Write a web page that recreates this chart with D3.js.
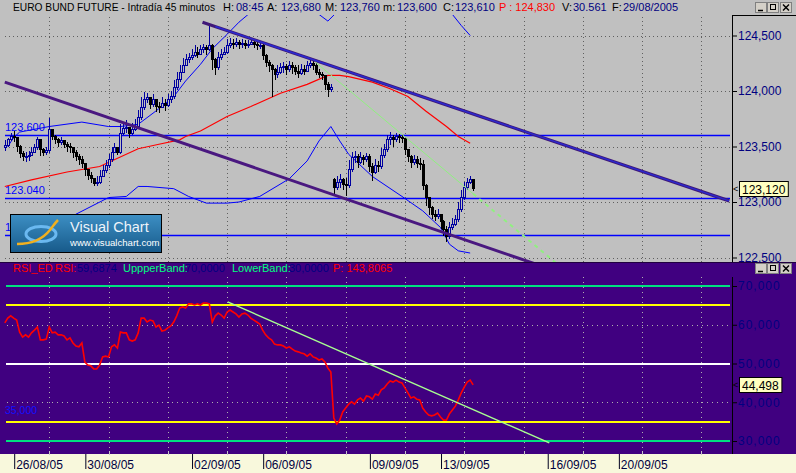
<!DOCTYPE html>
<html><head><meta charset="utf-8">
<script src="https://cdn.jsdelivr.net/npm/d3@7"></script>
<style>
body{margin:0;background:#c0c0c0;overflow:hidden}
svg{display:block;font-family:"Liberation Sans",Arial,sans-serif}
</style></head>
<body><svg id="c" width="796" height="473"></svg>
<script>
// ---------------- DATA ----------------
const closes = [
123.51,123.56,123.59,123.58,123.50,123.44,123.41,123.41,123.42,123.45,
123.49,123.56,123.47,123.45,123.46,123.65,123.59,123.56,123.54,123.55,
123.52,123.50,123.49,123.45,123.41,123.38,123.35,123.29,123.24,123.21,
123.17,123.18,123.23,123.28,123.33,123.38,123.45,123.49,123.45,123.62,
123.66,123.67,123.62,123.65,123.68,123.76,123.85,123.92,123.94,123.88,
123.92,123.86,123.85,123.89,123.87,123.92,123.95,124.03,124.10,124.17,
124.23,124.28,124.30,124.32,124.35,124.33,124.37,124.39,124.37,124.41,
124.28,124.21,124.30,124.33,124.35,124.41,124.43,124.42,124.44,124.42,
124.43,124.41,124.42,124.44,124.42,124.41,124.41,124.32,124.26,124.23,
124.19,124.15,124.17,124.21,124.22,124.19,124.23,124.21,124.18,124.16,
124.19,124.18,124.23,124.25,124.23,124.17,124.15,124.14,124.06,124.01,
124.03,123.13,123.18,123.20,123.16,123.15,123.29,123.40,123.41,123.36,
123.40,123.38,123.41,123.32,123.27,123.33,123.32,123.42,123.47,123.56,
123.58,123.56,123.59,123.58,123.57,123.47,123.41,123.36,123.38,123.35,
123.34,123.15,123.04,122.95,122.89,122.87,122.89,122.82,122.75,122.69,
122.77,122.80,122.84,122.93,123.04,123.13,123.18,123.20,123.12];
const highs = [
123.56,123.58,123.62,123.64,123.59,123.51,123.46,123.45,123.46,123.50,
123.52,123.59,123.57,123.49,123.50,123.76,123.66,123.60,123.58,123.59,
123.56,123.54,123.53,123.50,123.47,123.43,123.41,123.35,123.30,123.27,
123.22,123.23,123.29,123.33,123.38,123.43,123.50,123.53,123.50,123.70,
123.72,123.74,123.68,123.71,123.75,123.83,123.95,123.99,123.98,123.95,
123.97,123.92,123.90,123.95,123.93,123.97,124.00,124.10,124.17,124.23,
124.30,124.33,124.34,124.38,124.41,124.40,124.41,124.42,124.41,124.60,
124.42,124.30,124.35,124.38,124.40,124.47,124.48,124.47,124.48,124.46,
124.47,124.46,124.46,124.48,124.46,124.45,124.45,124.42,124.33,124.28,
124.24,124.21,124.23,124.25,124.26,124.24,124.27,124.26,124.23,124.23,
124.24,124.23,124.27,124.29,124.28,124.25,124.20,124.17,124.14,124.08,
124.06,123.22,123.23,123.25,123.22,123.22,123.38,123.45,123.46,123.43,
123.45,123.42,123.44,123.43,123.35,123.39,123.37,123.49,123.52,123.60,
123.63,123.60,123.62,123.61,123.60,123.59,123.48,123.42,123.42,123.41,
123.40,123.38,123.16,123.04,122.96,122.93,122.94,122.89,122.84,122.78,
122.82,122.86,122.88,123.00,123.11,123.18,123.22,123.23,123.21];
const lows = [
123.46,123.50,123.55,123.54,123.45,123.40,123.37,123.36,123.37,123.41,
123.44,123.47,123.41,123.41,123.42,123.44,123.56,123.52,123.50,123.51,
123.49,123.45,123.44,123.40,123.37,123.33,123.31,123.23,123.20,123.17,
123.14,123.14,123.16,123.23,123.26,123.31,123.36,123.45,123.42,123.43,
123.60,123.62,123.58,123.60,123.64,123.66,123.74,123.83,123.89,123.84,
123.86,123.81,123.80,123.85,123.82,123.86,123.89,123.93,124.01,124.08,
124.17,124.23,124.25,124.28,124.31,124.30,124.32,124.34,124.32,124.36,
124.19,124.14,124.19,124.28,124.32,124.33,124.39,124.38,124.40,124.38,
124.39,124.38,124.39,124.41,124.39,124.37,124.38,124.28,124.22,124.17,
123.95,124.10,124.12,124.15,124.16,124.14,124.17,124.15,124.14,124.12,
124.14,124.14,124.17,124.21,124.19,124.14,124.12,124.10,124.01,123.95,
123.99,123.05,123.11,123.13,123.11,123.05,123.13,123.27,123.35,123.31,
123.34,123.33,123.36,123.27,123.19,123.25,123.27,123.30,123.40,123.45,
123.51,123.50,123.54,123.53,123.53,123.42,123.36,123.31,123.33,123.31,
123.29,123.11,122.96,122.88,122.85,122.83,122.85,122.76,122.69,122.64,
122.67,122.75,122.78,122.82,122.91,123.02,123.11,123.16,123.10];
// opens follow the previous close except at session start / contract roll
const gapOpens = {0: 123.49, 111: 123.20};

// red moving average (bar index, value)
const maIdx  = [0,9,21,32,45,52,59,61,66,75,83,93,102,109,113,116,124,130,136,142,149,153,157];
const maVals = [123.14,123.20,123.27,123.32,123.48,123.52,123.56,123.59,123.64,123.77,123.86,123.98,124.06,124.14,124.14,124.13,124.08,124.02,123.95,123.82,123.68,123.59,123.53];
// blue envelope, upper curve
const upIdx  = [1,3,5,15,26,35,39,45,51,57,61,66,70,75,79,83,90,97,103,106,109,112,114,120,135,145,151,154,157];
const upVals = [123.50,123.58,123.63,123.68,123.72,123.68,123.68,123.70,123.82,123.95,124.09,124.24,124.38,124.51,124.62,124.71,124.78,124.80,124.75,124.69,124.63,124.71,125.09,125.54,125.54,125.09,124.69,124.59,124.50];
// blue envelope, lower curve
const loIdx  = [3,12,24,35,41,45,48,57,62,68,75,79,86,96,102,106,110,113,116,124,134,141,147,150,153,157];
const loVals = [122.57,122.70,122.89,123.04,123.05,123.14,123.14,123.12,123.05,122.99,122.99,123.00,123.05,123.21,123.37,123.55,123.68,123.55,123.43,123.23,123.05,122.92,122.77,122.62,122.56,122.54];

const hLines = [123.600, 123.040, 122.700];
const trendLow  = [[0,124.08],[200,122.25]];
const trendHigh = [[66.7,124.62],[244.4,123.01]];
const greenLine = [[104.8,124.26],[186,122.45]];

const rsi = [
60.5,61.7,62.3,61.7,61.2,58.1,56.8,57.4,56.8,57.9,
58.6,59.4,56.1,56.1,56.3,59.4,57.9,58.1,57.4,57.4,
57.1,56.1,56.6,55.3,54.5,54.3,55.3,50.4,49.6,49.4,
48.6,48.6,49.6,51.7,51.9,51.7,54.3,54.8,54.0,58.1,
57.9,57.9,56.1,55.8,56.1,57.9,61.7,61.7,60.7,61.2,
61.0,59.4,59.9,58.4,58.6,59.2,59.7,60.7,62.3,64.3,
64.6,64.3,65.4,65.4,65.1,65.4,65.1,65.6,65.6,65.4,
60.7,62.3,63.0,62.5,61.7,63.3,63.8,63.3,62.8,62.0,
62.8,63.0,62.5,61.7,61.2,60.7,60.2,58.6,57.4,56.6,
56.1,55.0,54.8,54.8,54.5,54.0,54.3,53.7,53.2,53.0,
52.7,52.5,51.9,52.5,51.7,51.4,50.9,51.2,50.4,48.8,
47.8,35.9,34.4,35.4,37.5,38.5,39.5,40.1,39.5,40.6,
41.1,40.3,41.6,41.4,40.8,42.1,41.8,43.2,43.7,44.7,
45.5,45.2,45.7,45.2,45.0,43.7,42.4,41.1,41.4,40.8,
40.6,38.5,37.5,36.7,36.5,36.7,37.2,36.2,35.4,35.4,
37.0,38.0,39.0,40.6,42.4,43.9,45.2,45.7,44.498];
const rsiTrend = [[75.2,65.9],[183.7,29.5]];
const rsiBands = [{v:70,c:"#00e080"},{v:65,c:"#ffff00"},{v:50,c:"#ffffff"},{v:35,c:"#ffff00"},{v:30,c:"#00e080"}];

const priceTicks = [122.5,123.0,123.5,124.0,124.5];
const rsiTicks = [30,40,50,60,70];
const gridIdx = [15,35,55,75,95,115,135,155,175,195,215,235];
const dateIdx = [3,27,63,87,123,147,183,207];
const dateLabels = ["26/08/05","30/08/05","02/09/05","06/09/05","09/09/05","13/09/05","16/09/05","20/09/05"];

const titleParts = [
 ["EURO BUND FUTURE - Intradía 45 minutos","#000000",13,202],["H:","#000000",223],["08:45","#000080",236],
 ["A:","#000000",267],["123,680","#000080",281],["M:","#000000",325],["123,760","#000080",340],
 ["m:","#000000",383],["123,600","#000080",397],["C:","#000000",443],["123,610","#000080",455],
 ["P : 124,830","#ff0000",499],["V:","#000000",562],["30.561","#000080",573],["F:","#000000",612],["29/08/2005","#000080",623]];
const rsiTitle = [["RSI_ED","#ff0000",13],["RSI:","#ff0000",55],["59,6874","#000080",77],
 ["UppperBand:","#00ff80",123],["70,0000","#000080",185],["LowerBand:","#00ff80",232],["30,0000","#000080",289],["P: 143,8065","#ff0000",333]];

// ---------------- SCALES ----------------
const svg = d3.select("#c");
const x = d3.scaleLinear().domain([0,245]).range([4.8,731]);
const yP = d3.scaleLinear().domain([122.5,124.5]).range([257.5,35.5]);
const yR = d3.scaleLinear().domain([30,70]).range([441,286]);
const fmtComma = n => v => d3.format("."+n+"f")(v).replace(".",",");

// backgrounds
svg.append("rect").attr("x",0).attr("y",0).attr("width",796).attr("height",263).attr("fill","#c0c0c0");
svg.append("rect").attr("x",0).attr("y",263).attr("width",796).attr("height",191).attr("fill","#400080");
svg.append("rect").attr("x",0).attr("y",454).attr("width",796).attr("height",19).attr("fill","#f8f8dc");
svg.append("line").attr("x1",0).attr("x2",796).attr("y1",262.5).attr("y2",262.5).attr("stroke","#200040");

const defs = svg.append("defs");
defs.append("clipPath").attr("id","cm").append("rect").attr("x",3).attr("y",15).attr("width",729).attr("height",247);
defs.append("clipPath").attr("id","cr").append("rect").attr("x",3).attr("y",276).attr("width",729).attr("height",176);
const lg = defs.append("linearGradient").attr("id","lg").attr("x1",0).attr("y1",0).attr("x2",0).attr("y2",1);
lg.append("stop").attr("offset","0%").attr("stop-color","#3d8fc4");
lg.append("stop").attr("offset","100%").attr("stop-color","#175a8a");

// ---------------- MAIN PANEL ----------------
const main = svg.append("g").attr("clip-path","url(#cm)");
main.selectAll(".gv").data(gridIdx).join("line")
  .attr("x1",d=>Math.round(x(d))+0.5).attr("x2",d=>Math.round(x(d))+0.5).attr("y1",17).attr("y2",262)
  .attr("stroke","#606060").attr("stroke-dasharray","1,3");
main.selectAll(".gh").data(priceTicks).join("line")
  .attr("x1",5).attr("x2",730).attr("y1",d=>Math.round(yP(d))+0.5).attr("y2",d=>Math.round(yP(d))+0.5)
  .attr("stroke","#606060").attr("stroke-dasharray","1,3");
main.selectAll(".hl").data(hLines).join("line")
  .attr("x1",5).attr("x2",730).attr("y1",d=>Math.round(yP(d))+0.5).attr("y2",d=>Math.round(yP(d))+0.5)
  .attr("stroke","#0000ff").attr("stroke-width",1.3);
main.selectAll(".hlt").data(hLines).join("text")
  .attr("x",5).attr("y",d=>yP(d)-4).attr("font-size",11).attr("fill","#0000ff")
  .text(d=>d3.format(".3f")(d));

const lineP = d3.line().x(d=>x(d[0])).y(d=>yP(d[1]));
main.append("path").datum(d3.zip(upIdx,upVals)).attr("d",lineP).attr("fill","none").attr("stroke","#0000ff").attr("stroke-width",1);
main.append("path").datum(d3.zip(loIdx,loVals)).attr("d",lineP).attr("fill","none").attr("stroke","#0000ff").attr("stroke-width",1);
main.append("path").datum(d3.zip(maIdx,maVals)).attr("d",lineP).attr("fill","none").attr("stroke","#ff0000").attr("stroke-width",1.2);

// candles
const bars = closes.map((c,i)=>{
  const o = gapOpens[i]!==undefined ? gapOpens[i] : closes[i-1];
  return {i,o,c,h:Math.max(highs[i],o,c),l:Math.min(lows[i],o,c)};
});
const cg = main.append("g").attr("shape-rendering","crispEdges");
cg.selectAll(".w").data(bars).join("line")
  .attr("x1",d=>Math.round(x(d.i))+0.5).attr("x2",d=>Math.round(x(d.i))+0.5)
  .attr("y1",d=>yP(d.h)).attr("y2",d=>yP(d.l))
  .attr("stroke",d=>d.c>=d.o?"#0000a0":"#000000");
cg.selectAll(".b").data(bars).join("rect")
  .attr("x",d=>Math.round(x(d.i))-0.5).attr("width",2)
  .attr("y",d=>yP(Math.max(d.o,d.c))).attr("height",d=>Math.max(1,yP(Math.min(d.o,d.c))-yP(Math.max(d.o,d.c))))
  .attr("fill",d=>d.c>=d.o?"#c0c0c0":"#000000").attr("stroke",d=>d.c>=d.o?"#0000a0":"#000000");

// trend lines
main.append("path").datum(trendLow).attr("d",lineP).attr("stroke","#4a1880").attr("stroke-width",3).attr("fill","none");
main.append("path").datum(trendHigh).attr("d",lineP).attr("stroke","#401878").attr("stroke-width",3.2).attr("fill","none");
const th = trendHigh, tSlope = (th[1][1]-th[0][1])/(th[1][0]-th[0][0]);
main.append("path").datum([[71,th[0][1]+tSlope*(71-th[0][0])],th[1]]).attr("d",lineP).attr("stroke","#2a2ad0").attr("stroke-width",1.5).attr("fill","none");
const gSlope = (greenLine[1][1]-greenLine[0][1])/(greenLine[1][0]-greenLine[0][0]);
const gMid = [158, greenLine[0][1]+gSlope*(158-greenLine[0][0])];
main.append("path").datum([greenLine[0],gMid]).attr("d",lineP).attr("stroke","#90f080").attr("stroke-width",1).attr("fill","none");
main.append("path").datum([gMid,greenLine[1]]).attr("d",lineP).attr("stroke","#90f080").attr("stroke-width",2).attr("stroke-dasharray","4,4").attr("fill","none");

// logo
const logo = svg.append("g");
logo.append("rect").attr("x",10.5).attr("y",214.5).attr("width",151).attr("height",38).attr("fill","url(#lg)").attr("stroke","#000").attr("stroke-width",1);
logo.append("ellipse").attr("cx",41).attr("cy",234).attr("rx",15).attr("ry",7.5).attr("fill","none").attr("stroke","#6ab8f0").attr("stroke-width",3);
logo.append("path").attr("d","M17,244 C30,244 42,240 50,230 C53,226 55,223 58,220").attr("fill","none").attr("stroke","#f0b020").attr("stroke-width",2.5);
logo.append("text").attr("x",70).attr("y",232).attr("font-size",14.5).attr("fill","#eef4fa").text("Visual Chart");
logo.append("text").attr("x",70).attr("y",246).attr("font-size",9.6).attr("fill","#ffffff").text("www.visualchart.com");

// title
const tg = svg.append("g").attr("font-size",11);
tg.selectAll("text").data(titleParts).join("text").attr("x",d=>d[2]).attr("y",11).attr("fill",d=>d[1])
  .each(function(d){ if(d[3]) d3.select(this).attr("font-size",10.4).attr("textLength",d[3]).attr("lengthAdjust","spacingAndGlyphs"); })
  .text(d=>d[0]);

// price axis
const pa = svg.append("g").attr("transform","translate(732,0)")
  .call(d3.axisRight(yP).tickValues(priceTicks).tickSize(5).tickFormat(fmtComma(3)));
pa.select(".domain").remove();
pa.selectAll("line").attr("stroke","#000");
pa.selectAll("text").attr("font-size",12).attr("fill","#000080").attr("x",6).attr("font-family","Liberation Sans, Arial");
svg.append("line").attr("x1",732.5).attr("x2",732.5).attr("y1",15).attr("y2",262).attr("stroke","#000");
svg.append("line").attr("x1",732).attr("x2",796).attr("y1",15.5).attr("y2",15.5).attr("stroke","#000");

function valBox(yv, label){
  const g = svg.append("g");
  g.append("text").attr("x",733).attr("y",yv+3).attr("font-size",9).attr("fill","#000").text("<");
  g.append("rect").attr("x",739.5).attr("y",Math.round(yv)-7.5).attr("width",label.length*6.4+4).attr("height",15).attr("fill","#ffffc0").attr("stroke","#000");
  g.append("text").attr("x",742).attr("y",Math.round(yv)+4.5).attr("font-size",12).attr("fill","#000").text(label);
}
valBox(yP(closes[closes.length-1]), fmtComma(3)(closes[closes.length-1]));

function buttons(y0){
  const g = svg.append("g");
  [755,767,780].forEach((bx,k)=>{
    g.append("rect").attr("x",bx+0.5).attr("y",y0+0.5).attr("width",11).attr("height",10).attr("fill","#d4d0c8").attr("stroke","#808080");
    if(k===0) g.append("line").attr("x1",bx+3).attr("x2",bx+8).attr("y1",y0+8.5).attr("y2",y0+8.5).attr("stroke","#000").attr("stroke-width",1.5);
    if(k===1) g.append("rect").attr("x",bx+3.5).attr("y",y0+2.5).attr("width",5).attr("height",5).attr("fill","none").attr("stroke","#000");
    if(k===2){ g.append("line").attr("x1",bx+3).attr("x2",bx+9).attr("y1",y0+2.5).attr("y2",y0+8.5).attr("stroke","#000").attr("stroke-width",1.5);
               g.append("line").attr("x1",bx+9).attr("x2",bx+3).attr("y1",y0+2.5).attr("y2",y0+8.5).attr("stroke","#000").attr("stroke-width",1.5);}
  });
}
buttons(2);
buttons(263);

// ---------------- RSI PANEL ----------------
const rp = svg.append("g").attr("clip-path","url(#cr)");
rp.selectAll(".gv").data(gridIdx).join("line")
  .attr("x1",d=>Math.round(x(d))+0.5).attr("x2",d=>Math.round(x(d))+0.5).attr("y1",277).attr("y2",452)
  .attr("stroke","#b0b0b0").attr("stroke-dasharray","1,4");
rp.selectAll(".gh").data([60,40]).join("line")
  .attr("x1",7).attr("x2",730).attr("y1",d=>Math.round(yR(d))+0.5).attr("y2",d=>Math.round(yR(d))+0.5)
  .attr("stroke","#b0b0b0").attr("stroke-dasharray","1,4");
rp.selectAll(".bd").data(rsiBands).join("line")
  .attr("x1",6).attr("x2",730).attr("y1",d=>Math.round(yR(d.v))).attr("y2",d=>Math.round(yR(d.v)))
  .attr("stroke",d=>d.c).attr("stroke-width",2);
rp.append("text").attr("x",5).attr("y",yR(35)-8).attr("font-size",10.5).attr("fill","#1010ff").text(fmtComma(3)(35));
const lineR = d3.line().x((d,i)=>x(i)).y(d=>yR(d));
rp.append("path").datum(rsi).attr("d",lineR).attr("fill","none").attr("stroke","#ff0000").attr("stroke-width",1.6);
rp.append("path").datum(rsiTrend).attr("d",d3.line().x(d=>x(d[0])).y(d=>yR(d[1]))).attr("stroke","#a8ff90").attr("stroke-width",1.4).attr("fill","none");

const rt = svg.append("g").attr("font-size",11);
rt.selectAll("text").data(rsiTitle).join("text").attr("x",d=>d[2]).attr("y",272).attr("fill",d=>d[1]).text(d=>d[0]);

const ra = svg.append("g").attr("transform","translate(732,0)")
  .call(d3.axisRight(yR).tickValues(rsiTicks).tickSize(5).tickFormat(fmtComma(3)));
ra.select(".domain").remove();
ra.selectAll("line").attr("stroke","#000");
ra.selectAll("text").attr("font-size",12).attr("letter-spacing",1).attr("fill","#000080").attr("x",6).attr("font-family","Liberation Sans, Arial");
svg.append("line").attr("x1",732.5).attr("x2",732.5).attr("y1",277).attr("y2",454).attr("stroke","#000");
valBox(yR(rsi[rsi.length-1]), fmtComma(3)(rsi[rsi.length-1]));

// ---------------- DATE AXIS ----------------
svg.selectAll(".mt").data(gridIdx).join("line")
  .attr("x1",d=>Math.round(x(d))+0.5).attr("x2",d=>Math.round(x(d))+0.5).attr("y1",451).attr("y2",455)
  .attr("stroke","#c8c8c8");
const xa = svg.append("g").attr("transform","translate(0,454)")
  .call(d3.axisBottom(x).tickValues(dateIdx).tickSize(15).tickFormat((d,i)=>dateLabels[i]));
xa.select(".domain").remove();
xa.selectAll("line").attr("stroke","#000020").attr("transform","translate(0.5,0)");
xa.selectAll("text").attr("text-anchor","start").attr("x",2).attr("y",15).attr("dy",0)
  .attr("font-size",12).attr("fill","#000040").attr("font-family","Liberation Sans, Arial");
</script>
</body></html>
